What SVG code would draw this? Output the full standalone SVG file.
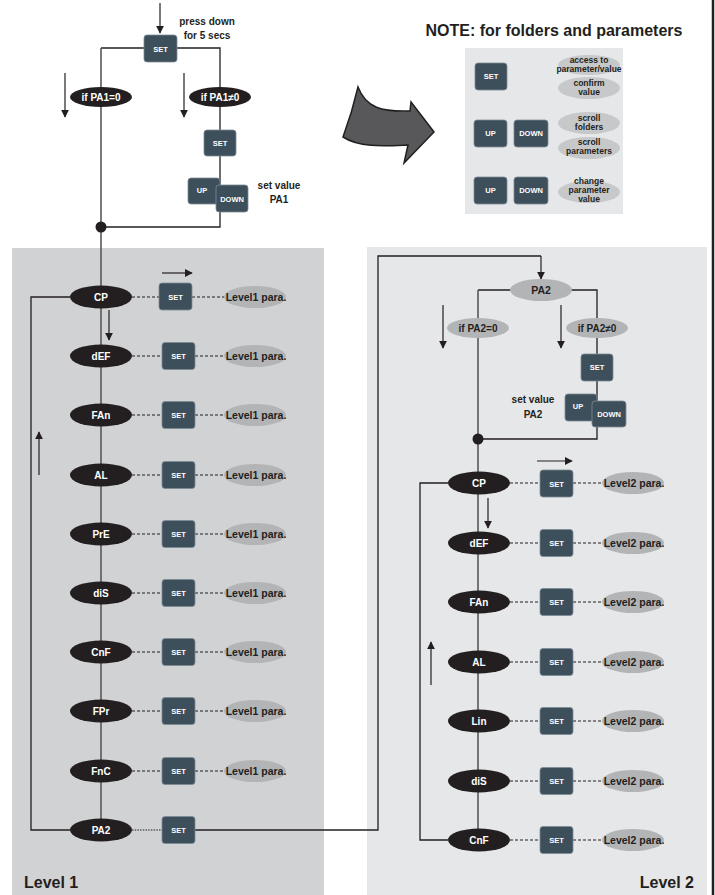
<svg xmlns="http://www.w3.org/2000/svg" width="715" height="895" viewBox="0 0 715 895">
<defs>
<style>
text{font-family:"Liberation Sans",Arial,sans-serif;font-weight:bold;text-anchor:middle}
.btn{fill:#3d4f5b;stroke:#7d8b95;stroke-width:0.8}
.bt{fill:#ffffff;font-size:7.5px}
.nd{fill:#231f20}
.ndt{fill:#ffffff;font-size:10px}
.pe{fill:#b3b4b6}
.pt{fill:#231f20;font-size:10.5px}
.lbl{fill:#231f20;font-size:10px}
.nt{fill:#231f20;font-size:8.5px}
.ln{stroke:#231f20;stroke-width:1.3;fill:none}
.vl{stroke:#58585a;stroke-width:1.6;fill:none}
.ds{stroke:#231f20;stroke-width:1.1;stroke-dasharray:3 2;fill:none}
.dt{stroke:#231f20;stroke-width:1.1;stroke-dasharray:1.5 1.2;fill:none}
.ar{stroke:#231f20;stroke-width:1.2;fill:none;marker-end:url(#ah)}
</style>
<marker id="ah" viewBox="0 0 10 10" refX="9" refY="5" markerWidth="8" markerHeight="8" markerUnits="userSpaceOnUse" orient="auto">
<path d="M0,0 L10,5 L0,10 Z" fill="#231f20"/>
</marker>
</defs>
<rect width="715" height="895" fill="#ffffff"/>
<!-- panels -->
<rect x="12" y="248" width="312" height="647" fill="#d1d2d4"/>
<rect x="367" y="247" width="340" height="648" fill="#e6e7e8"/>
<rect x="465" y="48" width="158" height="166" fill="#e6e7e8"/>
<line x1="713" y1="0" x2="713" y2="895" stroke="#231f20" stroke-width="2.5"/>
<text x="24" y="888" style="text-anchor:start;font-size:16px;fill:#231f20">Level 1</text>
<text x="694" y="888" style="text-anchor:end;font-size:16px;fill:#231f20">Level 2</text>

<!-- big arrow -->
<path d="M343,137 C350,118 355,100 358,87 C366,108 382,112 410,111 L411,102 L434,132 L404,163 L408,145 C385,146 360,148 343,137 Z" fill="#58585a" stroke="#231f20" stroke-width="1.5" stroke-linejoin="miter"/>
<text x="554" y="36" style="font-size:16px;fill:#231f20">NOTE: for folders and parameters</text>

<!-- connectors -->
<g id="connectors">
<line class="ar" x1="160" y1="3" x2="160" y2="33"/>
<polyline class="ln" points="101,48 220,48 220,227 101,227"/>
<line class="vl" x1="101" y1="48" x2="101" y2="830"/>
<line class="ar" x1="65" y1="73" x2="65" y2="117"/>
<line class="ar" x1="184" y1="73" x2="184" y2="117"/>
<polyline class="ln" points="70,297 31,297 31,830 70,830"/>
<line class="ar" x1="39" y1="475" x2="39" y2="432"/>
<line class="ar" x1="162" y1="273" x2="192" y2="273"/>
<line class="ar" x1="109" y1="310" x2="109" y2="340"/>
<line class="ds" x1="132" y1="297" x2="159" y2="297"/><line class="ds" x1="192" y1="297" x2="224" y2="297"/>
<line class="ds" x1="132" y1="356" x2="162" y2="356"/><line class="ds" x1="195" y1="356" x2="224" y2="356"/>
<line class="ds" x1="132" y1="415" x2="162" y2="415"/><line class="ds" x1="195" y1="415" x2="224" y2="415"/>
<line class="ds" x1="132" y1="475" x2="162" y2="475"/><line class="ds" x1="195" y1="475" x2="224" y2="475"/>
<line class="ds" x1="132" y1="534" x2="162" y2="534"/><line class="ds" x1="195" y1="534" x2="224" y2="534"/>
<line class="ds" x1="132" y1="593" x2="162" y2="593"/><line class="ds" x1="195" y1="593" x2="224" y2="593"/>
<line class="ds" x1="132" y1="652" x2="162" y2="652"/><line class="ds" x1="195" y1="652" x2="224" y2="652"/>
<line class="ds" x1="132" y1="711" x2="162" y2="711"/><line class="ds" x1="195" y1="711" x2="224" y2="711"/>
<line class="ds" x1="132" y1="771" x2="162" y2="771"/><line class="ds" x1="195" y1="771" x2="224" y2="771"/>
<line class="dt" x1="132" y1="830" x2="162" y2="830"/>
<polyline class="ln" points="195,830 378,830 378,256 541,256"/>
<line class="ar" x1="541" y1="256" x2="541" y2="279"/>
<polyline class="ln" points="478,290 597,290 597,439 478,439"/>
<line class="vl" x1="478" y1="290" x2="478" y2="840"/>
<line class="ar" x1="443" y1="305" x2="443" y2="348"/>
<line class="ar" x1="561" y1="305" x2="561" y2="348"/>
<polyline class="ln" points="448,483 420,483 420,840 448,840"/>
<line class="ar" x1="431" y1="685" x2="431" y2="642"/>
<line class="ar" x1="537" y1="461" x2="572" y2="461"/>
<line class="ar" x1="488" y1="498" x2="488" y2="528"/>
<line class="ds" x1="510" y1="483" x2="540" y2="483"/><line class="ds" x1="573" y1="483" x2="602" y2="483"/>
<line class="ds" x1="510" y1="543" x2="540" y2="543"/><line class="ds" x1="573" y1="543" x2="602" y2="543"/>
<line class="ds" x1="510" y1="602" x2="540" y2="602"/><line class="ds" x1="573" y1="602" x2="602" y2="602"/>
<line class="ds" x1="510" y1="662" x2="540" y2="662"/><line class="ds" x1="573" y1="662" x2="602" y2="662"/>
<line class="ds" x1="510" y1="721" x2="540" y2="721"/><line class="ds" x1="573" y1="721" x2="602" y2="721"/>
<line class="ds" x1="510" y1="781" x2="540" y2="781"/><line class="ds" x1="573" y1="781" x2="602" y2="781"/>
<line class="ds" x1="510" y1="840" x2="540" y2="840"/><line class="ds" x1="573" y1="840" x2="602" y2="840"/>
<circle cx="101" cy="227" r="5.5" fill="#231f20"/>
<circle cx="478" cy="439" r="5.5" fill="#231f20"/>
</g>

<g id="set-start"><rect class="btn" x="144" y="35" width="33" height="27" rx="3"/><text class="bt" x="160.5" y="51.5">SET</text></g>
<g id="press-label"><text class="lbl" x="207" y="25">press down</text><text class="lbl" x="207" y="39">for 5 secs</text></g>
<g id="if-pa1-0"><ellipse class="nd" cx="101" cy="97" rx="31" ry="10"/><text class="ndt" x="101" y="100.5">if PA1=0</text></g>
<g id="if-pa1-ne0"><ellipse class="nd" cx="220" cy="97" rx="31" ry="10"/><text class="ndt" x="220" y="100.5">if PA1≠0</text></g>
<g id="set-pa1"><rect class="btn" x="204" y="130" width="32" height="26" rx="3"/><text class="bt" x="220" y="145.5">SET</text></g>
<g id="updown-pa1"><rect class="btn" x="188" y="178" width="32" height="26" rx="3"/><text class="bt" x="202" y="193">UP</text><rect class="btn" x="216" y="185" width="32" height="27" rx="3"/><text class="bt" x="232" y="201.5">DOWN</text></g>
<g id="setvalue-pa1"><text class="lbl" x="279" y="189">set value</text><text class="lbl" x="279" y="203">PA1</text></g>

<g id="note">
<rect class="btn" x="475" y="63" width="32" height="27" rx="3"/><text class="bt" x="491" y="79">SET</text>
<ellipse class="pe" cx="589" cy="65" rx="31" ry="10" fill-opacity="0.6"/>
<text class="nt" x="589" y="63">access to</text><text class="nt" x="589" y="71.5">parameter/value</text>
<ellipse class="pe" cx="589" cy="88" rx="31" ry="11" fill-opacity="0.6"/>
<text class="nt" x="589" y="86">confirm</text><text class="nt" x="589" y="95">value</text>
<rect class="btn" x="474" y="120" width="33" height="27" rx="3"/><text class="bt" x="490.5" y="136">UP</text>
<rect class="btn" x="514" y="120" width="34" height="27" rx="3"/><text class="bt" x="531" y="136">DOWN</text>
<ellipse class="pe" cx="589" cy="123" rx="31" ry="11" fill-opacity="0.6"/>
<text class="nt" x="589" y="121">scroll</text><text class="nt" x="589" y="130">folders</text>
<ellipse class="pe" cx="589" cy="148" rx="31" ry="11" fill-opacity="0.6"/>
<text class="nt" x="589" y="145">scroll</text><text class="nt" x="589" y="154">parameters</text>
<rect class="btn" x="474" y="177" width="33" height="27" rx="3"/><text class="bt" x="490.5" y="193">UP</text>
<rect class="btn" x="514" y="177" width="34" height="27" rx="3"/><text class="bt" x="531" y="193">DOWN</text>
<ellipse class="pe" cx="589" cy="192" rx="31" ry="11" fill-opacity="0.6"/>
<text class="nt" x="589" y="184">change</text><text class="nt" x="589" y="193">parameter</text><text class="nt" x="589" y="202">value</text>
</g>

<g id="l1-cp"><ellipse class="nd" cx="101" cy="297" rx="31" ry="11.5"/><text class="ndt" x="101" y="300.5">CP</text><rect class="btn" x="159" y="283" width="33" height="27" rx="3"/><text class="bt" x="175.5" y="299.5">SET</text><ellipse class="pe" cx="255" cy="297" rx="31" ry="11"/><text class="pt" x="256" y="300.5">Level1 para.</text></g>
<g id="l1-def"><ellipse class="nd" cx="101" cy="356" rx="31" ry="11.5"/><text class="ndt" x="101" y="359.5">dEF</text><rect class="btn" x="162" y="342.5" width="33" height="27" rx="3"/><text class="bt" x="178.5" y="359">SET</text><ellipse class="pe" cx="255" cy="356" rx="31" ry="11"/><text class="pt" x="256" y="359.5">Level1 para.</text></g>
<g id="l1-fan"><ellipse class="nd" cx="101" cy="415" rx="31" ry="11.5"/><text class="ndt" x="101" y="418.5">FAn</text><rect class="btn" x="162" y="401.5" width="33" height="27" rx="3"/><text class="bt" x="178.5" y="418">SET</text><ellipse class="pe" cx="255" cy="415" rx="31" ry="11"/><text class="pt" x="256" y="418.5">Level1 para.</text></g>
<g id="l1-al"><ellipse class="nd" cx="101" cy="475" rx="31" ry="11.5"/><text class="ndt" x="101" y="478.5">AL</text><rect class="btn" x="162" y="461.5" width="33" height="27" rx="3"/><text class="bt" x="178.5" y="478">SET</text><ellipse class="pe" cx="255" cy="475" rx="31" ry="11"/><text class="pt" x="256" y="478.5">Level1 para.</text></g>
<g id="l1-pre"><ellipse class="nd" cx="101" cy="534" rx="31" ry="11.5"/><text class="ndt" x="101" y="537.5">PrE</text><rect class="btn" x="162" y="520.5" width="33" height="27" rx="3"/><text class="bt" x="178.5" y="537">SET</text><ellipse class="pe" cx="255" cy="534" rx="31" ry="11"/><text class="pt" x="256" y="537.5">Level1 para.</text></g>
<g id="l1-dis"><ellipse class="nd" cx="101" cy="593" rx="31" ry="11.5"/><text class="ndt" x="101" y="596.5">diS</text><rect class="btn" x="162" y="579.5" width="33" height="27" rx="3"/><text class="bt" x="178.5" y="596">SET</text><ellipse class="pe" cx="255" cy="593" rx="31" ry="11"/><text class="pt" x="256" y="596.5">Level1 para.</text></g>
<g id="l1-cnf"><ellipse class="nd" cx="101" cy="652" rx="31" ry="11.5"/><text class="ndt" x="101" y="655.5">CnF</text><rect class="btn" x="162" y="638.5" width="33" height="27" rx="3"/><text class="bt" x="178.5" y="655">SET</text><ellipse class="pe" cx="255" cy="652" rx="31" ry="11"/><text class="pt" x="256" y="655.5">Level1 para.</text></g>
<g id="l1-fpr"><ellipse class="nd" cx="101" cy="711" rx="31" ry="11.5"/><text class="ndt" x="101" y="714.5">FPr</text><rect class="btn" x="162" y="697.5" width="33" height="27" rx="3"/><text class="bt" x="178.5" y="714">SET</text><ellipse class="pe" cx="255" cy="711" rx="31" ry="11"/><text class="pt" x="256" y="714.5">Level1 para.</text></g>
<g id="l1-fnc"><ellipse class="nd" cx="101" cy="771" rx="31" ry="11.5"/><text class="ndt" x="101" y="774.5">FnC</text><rect class="btn" x="162" y="757.5" width="33" height="27" rx="3"/><text class="bt" x="178.5" y="774">SET</text><ellipse class="pe" cx="255" cy="771" rx="31" ry="11"/><text class="pt" x="256" y="774.5">Level1 para.</text></g>
<g id="l1-pa2"><ellipse class="nd" cx="101" cy="830" rx="31" ry="11.5"/><text class="ndt" x="101" y="833.5">PA2</text><rect class="btn" x="162" y="816.5" width="33" height="27" rx="3"/><text class="bt" x="178.5" y="833">SET</text></g>

<g id="l2-pa2"><ellipse class="pe" cx="541" cy="290" rx="31" ry="11"/><text class="lbl" x="541" y="294" style="font-size:10.5px">PA2</text></g>
<g id="if-pa2-0"><ellipse class="pe" cx="478" cy="328" rx="31" ry="10"/><text class="lbl" x="478" y="331.5">if PA2=0</text></g>
<g id="if-pa2-ne0"><ellipse class="pe" cx="597" cy="328" rx="31" ry="10"/><text class="lbl" x="597" y="331.5">if PA2≠0</text></g>
<g id="set-pa2"><rect class="btn" x="581" y="354" width="32" height="27" rx="3"/><text class="bt" x="597" y="370">SET</text></g>
<g id="updown-pa2"><rect class="btn" x="565" y="394" width="32" height="27" rx="3"/><text class="bt" x="578" y="409">UP</text><rect class="btn" x="592" y="401" width="34" height="26" rx="3"/><text class="bt" x="609" y="417">DOWN</text></g>
<g id="setvalue-pa2"><text class="lbl" x="533" y="403">set value</text><text class="lbl" x="533" y="418">PA2</text></g>

<g id="l2-cp"><ellipse class="nd" cx="479" cy="483" rx="31" ry="11.5"/><text class="ndt" x="479" y="486.5">CP</text><rect class="btn" x="540" y="470" width="33" height="27" rx="3"/><text class="bt" x="556.5" y="486.5">SET</text><ellipse class="pe" cx="633" cy="483" rx="31" ry="11"/><text class="pt" x="634" y="486.5">Level2 para.</text></g>
<g id="l2-def"><ellipse class="nd" cx="479" cy="543" rx="31" ry="11.5"/><text class="ndt" x="479" y="546.5">dEF</text><rect class="btn" x="540" y="529.5" width="33" height="27" rx="3"/><text class="bt" x="556.5" y="546">SET</text><ellipse class="pe" cx="633" cy="543" rx="31" ry="11"/><text class="pt" x="634" y="546.5">Level2 para.</text></g>
<g id="l2-fan"><ellipse class="nd" cx="479" cy="602" rx="31" ry="11.5"/><text class="ndt" x="479" y="605.5">FAn</text><rect class="btn" x="540" y="588.5" width="33" height="27" rx="3"/><text class="bt" x="556.5" y="605">SET</text><ellipse class="pe" cx="633" cy="602" rx="31" ry="11"/><text class="pt" x="634" y="605.5">Level2 para.</text></g>
<g id="l2-al"><ellipse class="nd" cx="479" cy="662" rx="31" ry="11.5"/><text class="ndt" x="479" y="665.5">AL</text><rect class="btn" x="540" y="648.5" width="33" height="27" rx="3"/><text class="bt" x="556.5" y="665">SET</text><ellipse class="pe" cx="633" cy="662" rx="31" ry="11"/><text class="pt" x="634" y="665.5">Level2 para.</text></g>
<g id="l2-lin"><ellipse class="nd" cx="479" cy="721" rx="31" ry="11.5"/><text class="ndt" x="479" y="724.5">Lin</text><rect class="btn" x="540" y="707.5" width="33" height="27" rx="3"/><text class="bt" x="556.5" y="724">SET</text><ellipse class="pe" cx="633" cy="721" rx="31" ry="11"/><text class="pt" x="634" y="724.5">Level2 para.</text></g>
<g id="l2-dis"><ellipse class="nd" cx="479" cy="781" rx="31" ry="11.5"/><text class="ndt" x="479" y="784.5">diS</text><rect class="btn" x="540" y="767.5" width="33" height="27" rx="3"/><text class="bt" x="556.5" y="784">SET</text><ellipse class="pe" cx="633" cy="781" rx="31" ry="11"/><text class="pt" x="634" y="784.5">Level2 para.</text></g>
<g id="l2-cnf"><ellipse class="nd" cx="479" cy="840" rx="31" ry="11.5"/><text class="ndt" x="479" y="843.5">CnF</text><rect class="btn" x="540" y="826.5" width="33" height="27" rx="3"/><text class="bt" x="556.5" y="843">SET</text><ellipse class="pe" cx="633" cy="840" rx="31" ry="11"/><text class="pt" x="634" y="843.5">Level2 para.</text></g>
</svg>
